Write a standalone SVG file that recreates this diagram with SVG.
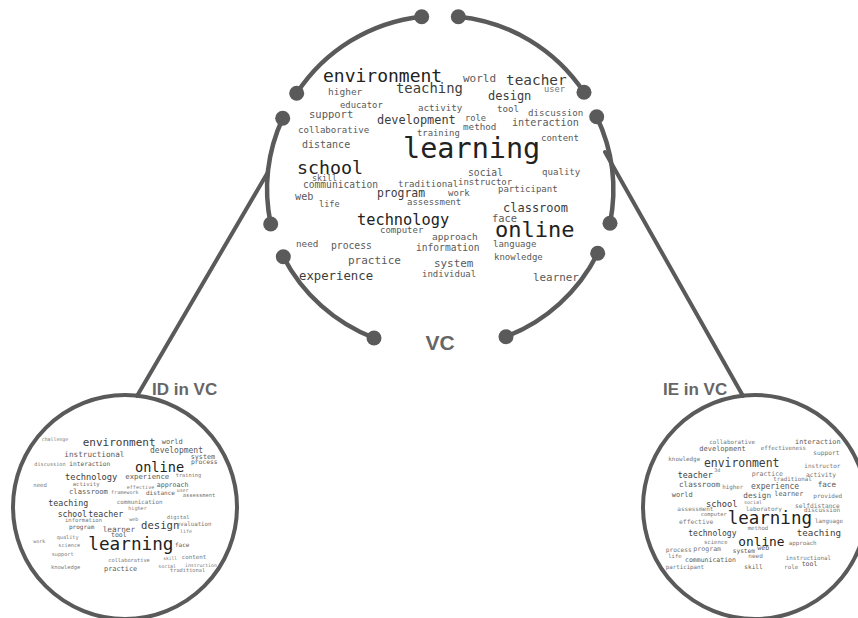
<svg xmlns="http://www.w3.org/2000/svg" width="858" height="618" viewBox="0 0 858 618">
<defs>
<style>
.arc{fill:none;stroke:#5a5a5a;stroke-width:4.5;stroke-linecap:round}
.dot{fill:#5a5a5a}
.ring{fill:none;stroke:#5a5a5a;stroke-width:4}
.conn{stroke:#5a5a5a;stroke-width:4;stroke-linecap:round}
.lbl{font-family:"Liberation Sans",Arial,sans-serif;font-weight:bold;fill:#666}
text.w{font-family:"DejaVu Sans Mono","Liberation Mono",monospace}
.w1{fill:#222}
.w2{fill:#3c3c3c}
.w3{fill:#5a5a5a}
.w4{fill:#777}
</style>
<clipPath id="clipID"><circle cx="125" cy="507" r="110"/></clipPath>
<clipPath id="clipIE"><circle cx="755" cy="507" r="110"/></clipPath>
</defs>
<rect width="858" height="618" fill="#fff"/>

<g id="connectors">
<line class="conn" x1="268" y1="172" x2="137" y2="396"/>
<line class="conn" x1="605" y1="152" x2="743" y2="396"/>
</g>

<g id="vc">
<path class="arc" d="M421.7,16.7 A171,171 0 0,0 296.7,93.3"/>
<path class="arc" d="M282.7,118.3 A171,171 0 0,0 270.7,224"/>
<path class="arc" d="M283.3,256.7 A171,171 0 0,0 374,338"/>
<path class="arc" d="M506,336.7 A171,171 0 0,0 597.7,253.3"/>
<path class="arc" d="M610,223.3 A171,171 0 0,0 596.7,116.7"/>
<path class="arc" d="M584,92.3 A171,171 0 0,0 458.3,16.7"/>
<circle class="dot" cx="421.7" cy="16.7" r="7.5"/>
<circle class="dot" cx="296.7" cy="93.3" r="7.5"/>
<circle class="dot" cx="282.7" cy="118.3" r="7.5"/>
<circle class="dot" cx="270.7" cy="224" r="7.5"/>
<circle class="dot" cx="283.3" cy="256.7" r="7.5"/>
<circle class="dot" cx="374" cy="338" r="7.5"/>
<circle class="dot" cx="506" cy="336.7" r="7.5"/>
<circle class="dot" cx="597.7" cy="253.3" r="7.5"/>
<circle class="dot" cx="610" cy="223.3" r="7.5"/>
<circle class="dot" cx="596.7" cy="116.7" r="7.5"/>
<circle class="dot" cx="584" cy="92.3" r="7.5"/>
<circle class="dot" cx="458.3" cy="16.7" r="7.5"/>
<text class="lbl" x="440" y="350" font-size="21" text-anchor="middle">VC</text>
<g id="vc-words">
<text class="w w1" x="323" y="82" font-size="18">environment</text>
<text class="w w3" x="463" y="82" font-size="11">world</text>
<text class="w w2" x="506" y="85" font-size="14.4">teacher</text>
<text class="w w3" x="328" y="95" font-size="9.5">higher</text>
<text class="w w2" x="396" y="93" font-size="13.9">teaching</text>
<text class="w w4" x="544" y="92" font-size="8.75">user</text>
<text class="w w2" x="488" y="100" font-size="12">design</text>
<text class="w w3" x="340" y="108" font-size="8.9">educator</text>
<text class="w w3" x="418" y="111" font-size="9.2">activity</text>
<text class="w w3" x="497" y="112" font-size="9.2">tool</text>
<text class="w w3" x="528" y="116" font-size="9.2">discussion</text>
<text class="w w3" x="309" y="118" font-size="10.5">support</text>
<text class="w w2" x="377" y="124" font-size="11.9">development</text>
<text class="w w3" x="465" y="121" font-size="8.75">role</text>
<text class="w w3" x="463" y="130" font-size="9.25">method</text>
<text class="w w3" x="512" y="126" font-size="10.1">interaction</text>
<text class="w w3" x="298" y="133" font-size="9.1">collaborative</text>
<text class="w w3" x="417" y="136" font-size="8.9">training</text>
<text class="w w3" x="541" y="141" font-size="9">content</text>
<text class="w w3" x="302" y="148" font-size="10">distance</text>
<text class="w w1" x="403" y="158" font-size="28.5">learning</text>
<text class="w w1" x="297" y="174" font-size="18.3">school</text>
<text class="w w3" x="468" y="176" font-size="9.7">social</text>
<text class="w w3" x="542" y="175" font-size="9.1">quality</text>
<text class="w w3" x="312" y="181" font-size="8.3">skill</text>
<text class="w w3" x="303" y="188" font-size="9.6">communication</text>
<text class="w w3" x="398" y="187" font-size="9.1">traditional</text>
<text class="w w3" x="458" y="185" font-size="9">instructor</text>
<text class="w w3" x="498" y="192" font-size="9">participant</text>
<text class="w w3" x="295" y="200" font-size="10.2">web</text>
<text class="w w3" x="319" y="207" font-size="8.6">life</text>
<text class="w w2" x="377" y="197" font-size="11.4">program</text>
<text class="w w3" x="448" y="196" font-size="9">work</text>
<text class="w w3" x="407" y="205" font-size="9">assessment</text>
<text class="w w2" x="503" y="212" font-size="12">classroom</text>
<text class="w w1" x="357" y="225" font-size="15.3">technology</text>
<text class="w w3" x="492" y="222" font-size="10.4">face</text>
<text class="w w1" x="495" y="237" font-size="22">online</text>
<text class="w w3" x="380" y="233" font-size="9">computer</text>
<text class="w w3" x="432" y="240" font-size="9.5">approach</text>
<text class="w w3" x="296" y="247" font-size="9.3">need</text>
<text class="w w3" x="331" y="249" font-size="9.7">process</text>
<text class="w w3" x="416" y="251" font-size="9.6">information</text>
<text class="w w3" x="493" y="247" font-size="9">language</text>
<text class="w w3" x="494" y="260" font-size="9">knowledge</text>
<text class="w w3" x="348" y="264" font-size="11">practice</text>
<text class="w w3" x="434" y="267" font-size="10.9">system</text>
<text class="w w2" x="299" y="280" font-size="12.3">experience</text>
<text class="w w3" x="422" y="277" font-size="9">individual</text>
<text class="w w3" x="533" y="281" font-size="10.9">learner</text>
</g>
</g>

<g id="id-in-vc">
<circle class="ring" cx="125" cy="507" r="112"/>
<text class="lbl" x="152" y="395" font-size="17">ID in VC</text>
<g clip-path="url(#clipID)">
<text class="w w4" x="41.7" y="441" font-size="4.9">challenge</text>
<text class="w w2" x="82.7" y="446" font-size="11">environment</text>
<text class="w w3" x="161.7" y="444" font-size="7">world</text>
<text class="w w3" x="150" y="453" font-size="8">development</text>
<text class="w w3" x="64.3" y="457" font-size="7.7">instructional</text>
<text class="w w3" x="190.7" y="459" font-size="6.75">system</text>
<text class="w w3" x="191" y="464" font-size="6.3">process</text>
<text class="w w4" x="34.3" y="466" font-size="5.2">discussion</text>
<text class="w w3" x="69.3" y="466" font-size="6.2">interaction</text>
<text class="w w1" x="135" y="472" font-size="13.6">online</text>
<text class="w w2" x="65" y="480" font-size="8.7">technology</text>
<text class="w w3" x="125.3" y="479" font-size="7.3">experience</text>
<text class="w w4" x="175.7" y="477" font-size="5.3">training</text>
<text class="w w4" x="33.3" y="487" font-size="5.6">need</text>
<text class="w w4" x="72.7" y="486" font-size="5.6">activity</text>
<text class="w w4" x="126.7" y="489" font-size="5.1">effective</text>
<text class="w w3" x="156.7" y="487" font-size="6.6">approach</text>
<text class="w w4" x="176.7" y="492" font-size="4.9">user</text>
<text class="w w3" x="69" y="494" font-size="7.2">classroom</text>
<text class="w w4" x="111" y="494" font-size="5.1">framework</text>
<text class="w w3" x="146" y="495" font-size="6">distance</text>
<text class="w w4" x="182.7" y="497" font-size="5.4">assessment</text>
<text class="w w2" x="48.3" y="506" font-size="8.3">teaching</text>
<text class="w w4" x="116.7" y="504" font-size="5.85">communication</text>
<text class="w w4" x="128.3" y="510" font-size="5.1">higher</text>
<text class="w w2" x="57.7" y="517" font-size="8.1">school</text>
<text class="w w2" x="88.3" y="517" font-size="8.3">teacher</text>
<text class="w w4" x="65" y="522" font-size="5.6">information</text>
<text class="w w4" x="129.3" y="521" font-size="5">web</text>
<text class="w w4" x="166.7" y="519" font-size="5.4">digital</text>
<text class="w w2" x="141" y="529" font-size="10.6">design</text>
<text class="w w4" x="176.7" y="526" font-size="5.8">evaluation</text>
<text class="w w3" x="69" y="529" font-size="6">program</text>
<text class="w w3" x="102.7" y="532" font-size="7.7">learner</text>
<text class="w w4" x="180" y="533" font-size="5">life</text>
<text class="w w3" x="111" y="537" font-size="6.5">tool</text>
<text class="w w4" x="56.7" y="539" font-size="5.2">quality</text>
<text class="w w4" x="33.3" y="543" font-size="4.9">work</text>
<text class="w w4" x="58.3" y="547" font-size="5.2">science</text>
<text class="w w1" x="88.3" y="550" font-size="17.7">learning</text>
<text class="w w3" x="175" y="547" font-size="6">face</text>
<text class="w w4" x="51.7" y="556" font-size="5.2">support</text>
<text class="w w4" x="163.3" y="560" font-size="4.5">skill</text>
<text class="w w4" x="181.7" y="559" font-size="5.8">content</text>
<text class="w w4" x="108.3" y="562" font-size="5.3">collaborative</text>
<text class="w w4" x="51" y="569" font-size="5.4">knowledge</text>
<text class="w w3" x="104" y="571" font-size="6.9">practice</text>
<text class="w w4" x="158.3" y="568" font-size="4.9">social</text>
<text class="w w4" x="185" y="567" font-size="4.8">instruction</text>
<text class="w w4" x="170" y="572" font-size="5.3">traditional</text>
</g>
</g>

<g id="ie-in-vc">
<circle class="ring" cx="755" cy="507" r="112"/>
<text class="lbl" x="663" y="395" font-size="17">IE in VC</text>
<g clip-path="url(#clipIE)">
<text class="w w4" x="709.3" y="444" font-size="5.85">collaborative</text>
<text class="w w3" x="795" y="444" font-size="6.9">interaction</text>
<text class="w w3" x="699.3" y="451" font-size="7">development</text>
<text class="w w4" x="760.7" y="450" font-size="5.8">effectiveness</text>
<text class="w w4" x="813.3" y="455" font-size="6.2">support</text>
<text class="w w4" x="668.3" y="461" font-size="5.9">knowledge</text>
<text class="w w2" x="704" y="467" font-size="11.4">environment</text>
<text class="w w4" x="804.3" y="468" font-size="6">instructor</text>
<text class="w w4" x="714.3" y="472" font-size="5">3d</text>
<text class="w w2" x="677.7" y="478" font-size="8.3">teacher</text>
<text class="w w4" x="751.7" y="476" font-size="6.5">practice</text>
<text class="w w4" x="773.3" y="481" font-size="5.8">traditional</text>
<text class="w w4" x="806" y="477" font-size="6.25">activity</text>
<text class="w w3" x="679" y="487" font-size="7.6">classroom</text>
<text class="w w4" x="722.3" y="489" font-size="5.8">higher</text>
<text class="w w3" x="751" y="489" font-size="8">experience</text>
<text class="w w3" x="817.7" y="487" font-size="7.6">face</text>
<text class="w w3" x="671.7" y="497" font-size="7">world</text>
<text class="w w3" x="743.3" y="498" font-size="7.7">design</text>
<text class="w w3" x="774.3" y="496" font-size="6.9">learner</text>
<text class="w w4" x="813.3" y="498" font-size="6">provided</text>
<text class="w w2" x="706" y="507" font-size="8.7">school</text>
<text class="w w4" x="744" y="504" font-size="5">social</text>
<text class="w w4" x="795" y="508" font-size="6.2">self</text>
<text class="w w4" x="810" y="508" font-size="6.2">distance</text>
<text class="w w4" x="677.3" y="511" font-size="6">assessment</text>
<text class="w w4" x="745.7" y="511" font-size="6">laboratory</text>
<text class="w w4" x="804" y="512" font-size="6">discussion</text>
<text class="w w4" x="700.7" y="516" font-size="5.4">computer</text>
<text class="w w1" x="727.7" y="524" font-size="17.5">learning</text>
<text class="w w4" x="679" y="524" font-size="6.35">effective</text>
<text class="w w4" x="815" y="523" font-size="5.8">language</text>
<text class="w w4" x="747.7" y="530" font-size="5.7">method</text>
<text class="w w2" x="688.3" y="536" font-size="8">technology</text>
<text class="w w2" x="796.7" y="536" font-size="9.2">teaching</text>
<text class="w w4" x="704" y="544" font-size="5.6">science</text>
<text class="w w1" x="738.3" y="546" font-size="12.8">online</text>
<text class="w w4" x="788.7" y="545" font-size="5.8">approach</text>
<text class="w w4" x="665.7" y="552" font-size="6.2">process</text>
<text class="w w4" x="693.3" y="551" font-size="6.6">program</text>
<text class="w w3" x="732.7" y="553" font-size="6.2">system</text>
<text class="w w3" x="757.3" y="550" font-size="6.7">web</text>
<text class="w w4" x="668.3" y="558" font-size="5.5">life</text>
<text class="w w3" x="685" y="562" font-size="6.5">communication</text>
<text class="w w4" x="748.3" y="558" font-size="6">need</text>
<text class="w w4" x="785.7" y="560" font-size="5.8">instructional</text>
<text class="w w3" x="801.7" y="566" font-size="6.5">tool</text>
<text class="w w4" x="665.7" y="569" font-size="5.8">participant</text>
<text class="w w3" x="744.3" y="569" font-size="6.1">skill</text>
<text class="w w4" x="784.3" y="569" font-size="5.8">role</text>
</g>
</g>
</svg>
